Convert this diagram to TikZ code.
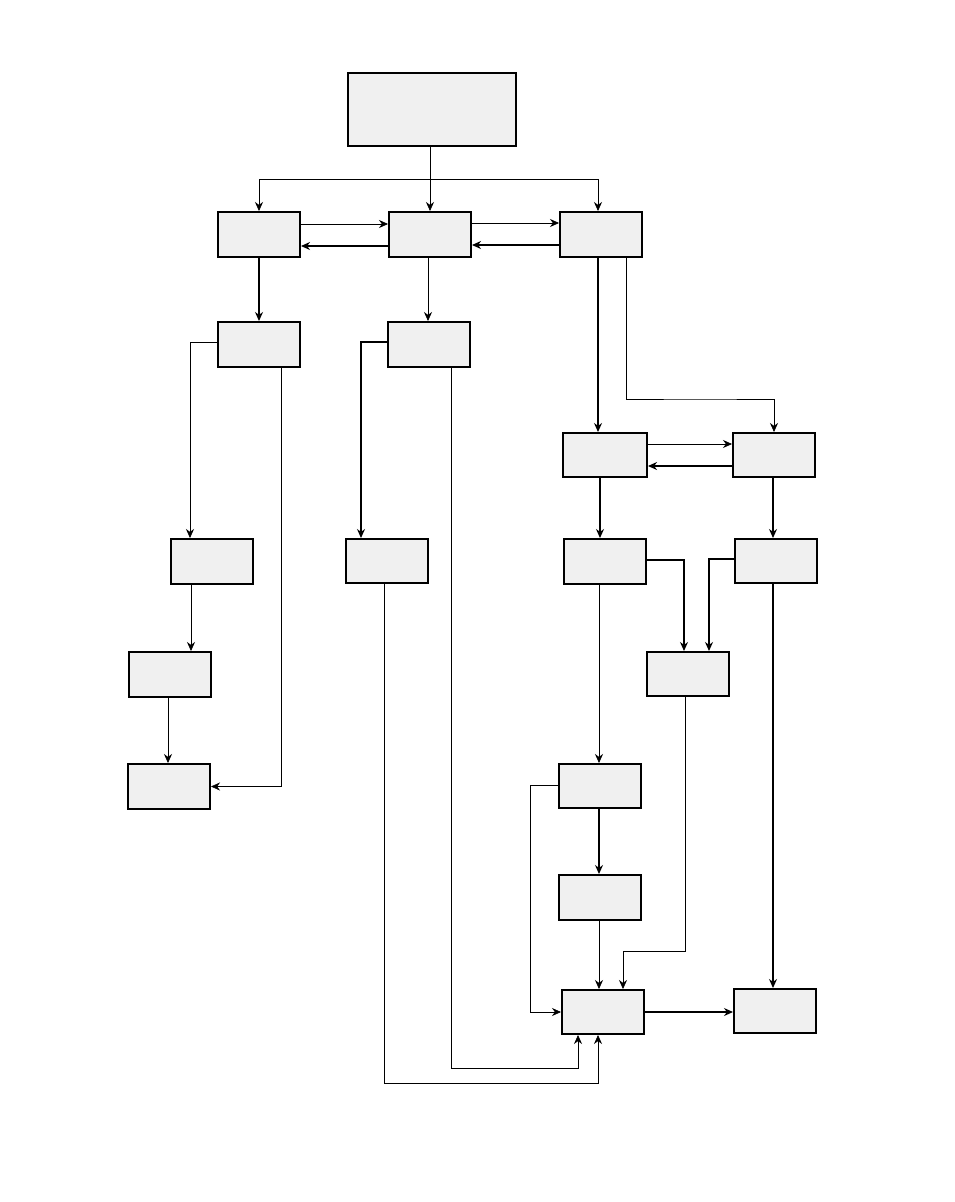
\documentclass[tikz,border=0pt]{standalone}
\usetikzlibrary{arrows.meta}
\begin{document}
\begin{tikzpicture}[x=1pt,y=-1pt,
  bx/.style={draw=black,fill=black!6,line width=2pt,inner sep=0pt},
  ar/.style={-{Stealth[length=9pt,width=8pt]},line width=0.6pt},
  tk/.style={-{Stealth[length=9pt,width=8pt]},line width=1.4pt}]
\useasboundingbox (0,0) rectangle (954,1202);
\newcommand{\bxn}[5]{\node[bx,minimum width=#4-#2,minimum height=#5-#3,anchor=north west] (#1) at (#2,#3) {};}
\bxn{T}{347}{72}{515}{145}
\bxn{A}{217}{211}{299}{256}
\bxn{B}{388}{211}{470}{256}
\bxn{C}{559}{211}{641}{256}
\bxn{D}{217}{321}{299}{366}
\bxn{E}{387}{321}{469}{366}
\bxn{F}{562}{432}{646}{476}
\bxn{G}{732}{432}{814}{476}
\bxn{H}{170}{538}{252}{583}
\bxn{I}{345}{538}{427}{582}
\bxn{J}{563}{538}{645}{583}
\bxn{K}{734}{538}{816}{582}
\bxn{L}{128}{651}{210}{696}
\bxn{M}{646}{651}{728}{695}
\bxn{N}{127}{763}{209}{808}
\bxn{O}{558}{763}{640}{807}
\bxn{P}{558}{874}{640}{919}
\bxn{Q}{561}{989}{643}{1033}
\bxn{R}{733}{988}{815}{1032}
\coordinate (t1) at (430,179);
\draw[line width=0.6pt] (T.south-|t1) -- (t1);
\draw[ar] (t1) -| (A.north);
\draw[ar] (t1) -- (B.north-|t1);
\draw[ar] (t1) -| (C.north-|598,0);
\draw[ar] (A.east|-0,224) -- (B.west|-0,224);
\draw[tk] (B.west|-0,246) -- (A.east|-0,246);
\draw[ar] (B.east|-0,223) -- (C.west|-0,223);
\draw[tk] (C.west|-0,245) -- (B.east|-0,245);
\draw[tk] (A.south) -- (D.north);
\draw[ar] (B.south-|428,0) -- (E.north-|428,0);
\draw[tk] (C.south-|598,0) -- (F.north-|598,0);
\draw[ar] (C.south-|626,0) |- (700,399) -| (G.north);
\draw[ar] (F.east|-0,444) -- (G.west|-0,444);
\draw[tk] (G.west|-0,466) -- (F.east|-0,466);
\draw[ar] (D.west|-0,342) -| (H.north-|190,0);
\draw[ar] (D.south-|281,0) |- (N.east);
\draw[tk] (E.west|-0,342) -| (I.north-|361,0);
\draw[ar] (E.south-|451,0) |- (578,1068) -- (Q.south-|578,0);
\draw[ar] (I.south-|384,0) |- (598,1083) -- (Q.south-|598,0);
\draw[ar] (H.south-|191,0) -- (L.north-|191,0);
\draw[ar] (L.south-|168,0) -- (N.north-|168,0);
\draw[tk] (F.south-|600,0) -- (J.north-|600,0);
\draw[tk] (G.south-|773,0) -- (K.north-|773,0);
\draw[tk] (J.east|-0,560) -| (M.north-|684,0);
\draw[tk] (K.west|-0,559) -| (M.north-|709,0);
\draw[tk] (K.south-|773,0) -- (R.north-|773,0);
\draw[ar] (J.south-|599,0) -- (O.north-|599,0);
\draw[ar] (M.south-|685,0) |- (623,951) -- (Q.north-|623,0);
\draw[tk] (O.south-|599,0) -- (P.north-|599,0);
\draw[ar] (O.west|-0,785) -| (530,1012) -- (Q.west|-0,1012);
\draw[ar] (P.south-|599,0) -- (Q.north-|599,0);
\draw[tk] (Q.east|-0,1012) -- (R.west|-0,1012);
\end{tikzpicture}
\end{document}
